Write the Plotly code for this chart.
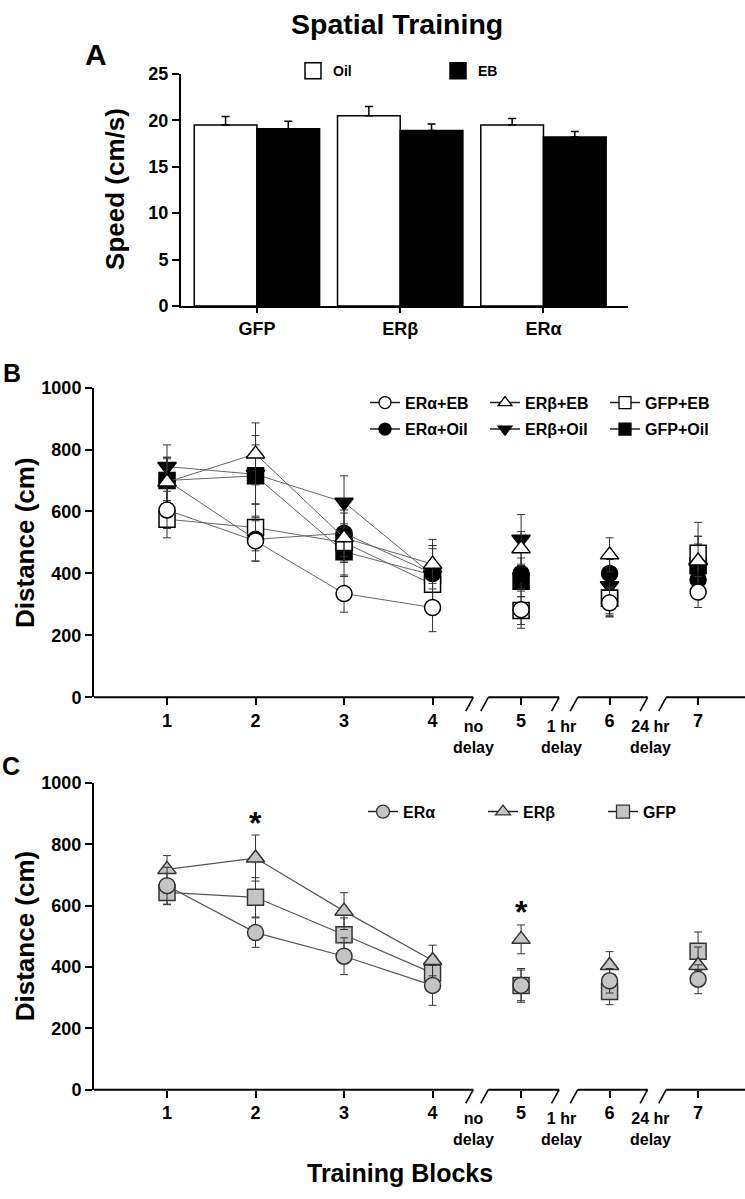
import plotly.graph_objects as go

W, H = 745, 1199
FONT = "Liberation Sans, Arial, Helvetica, sans-serif"

# ---------------- data ----------------
# Panel A: swim speed
groups = ["GFP", "ERβ", "ERα"]
speed_oil = [19.5, 20.5, 19.5]
speed_oil_err = [0.9, 1.0, 0.7]
speed_eb = [19.1, 18.9, 18.2]
speed_eb_err = [0.8, 0.7, 0.6]

# Panel B: distance by group x treatment
blocks = [1, 2, 3, 4, 5, 6, 7]
block_labels = ["1", "2", "3", "4", "5", "6", "7"]
delay_labels = ["no<br>delay", "1 hr<br>delay", "24 hr<br>delay"]
delay_pos = [4.46, 5.46, 6.46]

b_era_eb = [605, 505, 335, 290, 283, 305, 340]
b_era_eb_err = [60, 65, 60, 78, 60, 45, 50]
b_era_oil = [700, 510, 530, 400, 400, 400, 380]
b_era_oil_err = [75, 70, 75, 90, 50, 45, 50]
b_erb_eb = [695, 786, 515, 430, 480, 460, 440]
b_erb_eb_err = [80, 100, 80, 80, 55, 55, 80]
b_erb_oil = [745, 720, 630, 395, 510, 360, 420]
b_erb_oil_err = [70, 95, 85, 95, 80, 90, 100]
b_gfp_eb = [575, 548, 500, 365, 280, 320, 465]
b_gfp_eb_err = [60, 75, 60, 70, 45, 60, 100]
b_gfp_oil = [700, 715, 470, 395, 375, 320, 425]
b_gfp_oil_err = [70, 130, 80, 85, 50, 55, 70]

# Panel C: distance by group
c_era = [665, 512, 435, 340, 340, 355, 360]
c_era_err = [60, 48, 60, 65, 50, 40, 47]
c_erb = [718, 755, 582, 421, 490, 405, 405]
c_erb_err = [45, 75, 60, 50, 47, 45, 60]
c_gfp = [643, 627, 505, 380, 340, 320, 451]
c_gfp_err = [40, 64, 55, 55, 55, 43, 63]

# significance markers (block, height)
sig_blocks = [2, 5]
sig_heights = [868, 580]


# ---------------- helpers ----------------
def pxx(p):
    return p / W


def pxy(p):
    return 1 - p / H


def gapped(vals, fill=None):
    # connect blocks 1-4, leave 5, 6, 7 unconnected
    return list(vals[:4]) + [fill, vals[4], fill, vals[5], fill, vals[6]]


xb = gapped(blocks)

fig = go.Figure()

# ---------------- Panel A ----------------
fig.add_trace(go.Bar(
    x=groups, y=speed_oil, name="Oil", showlegend=False,
    marker=dict(color="white", line=dict(color="black", width=1.5)),
    error_y=dict(type="data", array=speed_oil_err, arrayminus=[0] * 3, symmetric=False,
                 color="black", thickness=1.5, width=4),
    xaxis="x", yaxis="y"))
fig.add_trace(go.Bar(
    x=groups, y=speed_eb, name="EB", showlegend=False,
    marker=dict(color="black", line=dict(color="black", width=1.5)),
    error_y=dict(type="data", array=speed_eb_err, arrayminus=[0] * 3, symmetric=False,
                 color="black", thickness=1.5, width=4),
    xaxis="x", yaxis="y"))
# legend keys for panel A
for nm, col in [("Oil", "white"), ("EB", "black")]:
    fig.add_trace(go.Scatter(
        x=[None], y=[None], mode="markers", name=nm, legend="legend",
        marker=dict(symbol="square", size=16, color=col, line=dict(color="black", width=1.5)),
        xaxis="x", yaxis="y"))

# ---------------- Panel B ----------------
LINE_B = "#666666"
ERR_B = "#333333"
b_series = [
    # name, vals, err, symbol, fill, legend, rank
    ("ERβ+Oil", b_erb_oil, b_erb_oil_err, "triangle-down", "black", "legend3", 5),
    ("GFP+Oil", b_gfp_oil, b_gfp_oil_err, "square", "black", "legend3", 6),
    ("GFP+EB", b_gfp_eb, b_gfp_eb_err, "square", "white", "legend2", 3),
    ("ERα+Oil", b_era_oil, b_era_oil_err, "circle", "black", "legend3", 4),
    ("ERβ+EB", b_erb_eb, b_erb_eb_err, "triangle-up", "white", "legend2", 2),
    ("ERα+EB", b_era_eb, b_era_eb_err, "circle", "white", "legend2", 1),
]
for nm, vals, err, sym, fill, leg, rank in b_series:
    fig.add_trace(go.Scatter(
        x=xb, y=gapped(vals), name=nm, mode="lines+markers", showlegend=False,
        line=dict(color=LINE_B, width=1),
        marker=dict(symbol=sym, size=16, color=fill, line=dict(color="black", width=1.5)),
        error_y=dict(type="data", array=gapped(err, 0), color=ERR_B, thickness=1, width=4),
        xaxis="x2", yaxis="y2"))
    # legend key
    fig.add_trace(go.Scatter(
        x=[None], y=[None], name=nm, mode="lines+markers", legend=leg, legendrank=rank,
        line=dict(color="#222222", width=1.5),
        marker=dict(symbol=sym, size=12, color=fill, line=dict(color="black", width=1.3)),
        xaxis="x2", yaxis="y2"))

# ---------------- Panel C ----------------
GRAY = "#c4c4c4"
EDGE = "#333333"
c_series = [
    ("GFP", c_gfp, c_gfp_err, "square", 3),
    ("ERβ", c_erb, c_erb_err, "triangle-up", 2),
    ("ERα", c_era, c_era_err, "circle", 1),
]
for nm, vals, err, sym, rank in c_series:
    fig.add_trace(go.Scatter(
        x=xb, y=gapped(vals), name=nm, mode="lines+markers", showlegend=False,
        line=dict(color="#555555", width=1.2),
        marker=dict(symbol=sym, size=16, color=GRAY, line=dict(color=EDGE, width=1.5)),
        error_y=dict(type="data", array=gapped(err, 0), color=EDGE, thickness=1, width=4),
        xaxis="x3", yaxis="y3"))
    fig.add_trace(go.Scatter(
        x=[None], y=[None], name=nm, mode="lines+markers", legend="legend4", legendrank=rank,
        line=dict(color="#222222", width=1.5),
        marker=dict(symbol=sym, size=13, color=GRAY, line=dict(color=EDGE, width=1.3)),
        xaxis="x3", yaxis="y3"))

# ---------------- layout ----------------
tickfont = dict(family=FONT, size=18, color="black", weight="bold")
legfont = dict(family=FONT, size=16, color="black", weight="bold")

dom_a_x = [pxx(181), pxx(628)]
dom_a_y = [pxy(301), pxy(65)]
dom_b_x = [pxx(94), 1.0]
dom_b_y = [pxy(699), pxy(384)]
dom_c_x = [pxx(94), 1.0]
dom_c_y = [pxy(1098), pxy(786)]

xrange_bc = [0.175, 7.53]

common_y = dict(showline=True, linewidth=2, linecolor="black", ticks="outside", ticklen=7,
                tickwidth=2, tickcolor="black", showgrid=False, zeroline=False,
                tickfont=tickfont)
common_xbc = dict(range=xrange_bc, showline=False, ticks="outside", ticklen=7, tickwidth=2,
                  tickcolor="black", showgrid=False, zeroline=False, tickfont=tickfont,
                  tickvals=blocks, ticktext=block_labels)

fig.update_layout(
    width=W, height=H, autosize=False,
    margin=dict(l=0, r=0, t=0, b=0),
    paper_bgcolor="white", plot_bgcolor="white",
    font=dict(family=FONT, color="black"),
    barmode="group", bargap=0.125, bargroupgap=0,
    xaxis=dict(domain=dom_a_x, anchor="y", range=[-0.53, 2.59], showline=True, linewidth=2,
               linecolor="black", ticks="outside", ticklen=5, tickwidth=2, tickcolor="black",
               showgrid=False, tickfont=tickfont),
    yaxis=dict(domain=dom_a_y, anchor="x", range=[0, 25], tickvals=[0, 5, 10, 15, 20, 25],
               **common_y),
    xaxis2=dict(domain=dom_b_x, anchor="y2", **common_xbc),
    yaxis2=dict(domain=dom_b_y, anchor="x2", range=[0, 1000],
                tickvals=[0, 200, 400, 600, 800, 1000], **common_y),
    xaxis3=dict(domain=dom_c_x, anchor="y3", **common_xbc),
    yaxis3=dict(domain=dom_c_y, anchor="x3", range=[0, 1000],
                tickvals=[0, 200, 400, 600, 800, 1000], **common_y),
    legend=dict(orientation="h", x=pxx(293), y=pxy(46), xanchor="left", yanchor="top",
                font=dict(family=FONT, size=14, color="black", weight="bold"),
                entrywidth=100, bgcolor="rgba(0,0,0,0)"),
    legend2=dict(orientation="h", x=pxx(365), y=pxy(382), xanchor="left", yanchor="top",
                 font=legfont, entrywidth=75, bgcolor="rgba(0,0,0,0)"),
    legend3=dict(orientation="h", x=pxx(365), y=pxy(409), xanchor="left", yanchor="top",
                 font=legfont, entrywidth=75, bgcolor="rgba(0,0,0,0)"),
    legend4=dict(orientation="h", x=pxx(363), y=pxy(798), xanchor="left", yanchor="top",
                 font=legfont, entrywidth=75, bgcolor="rgba(0,0,0,0)"),
)

# ---------------- broken x axes (B, C) ----------------
shapes = []
seg_bounds = [(xrange_bc[0], 4.46), (4.63, 5.43), (5.64, 6.43), (6.64, xrange_bc[1])]
for xr, yr, hpx in [("x2", "y2 domain", 315), ("x3", "y3 domain", 312)]:
    dy = 14 / hpx
    for i, (s, e) in enumerate(seg_bounds):
        shapes.append(dict(type="line", xref=xr, yref=yr, x0=s, x1=e, y0=0, y1=0,
                           line=dict(color="black", width=2)))
        if i > 0:
            shapes.append(dict(type="line", xref=xr, yref=yr, x0=s - 0.085, x1=s, y0=-dy, y1=0,
                               line=dict(color="black", width=1.6)))
        if i < len(seg_bounds) - 1:
            shapes.append(dict(type="line", xref=xr, yref=yr, x0=e - 0.085, x1=e, y0=-dy, y1=0,
                               line=dict(color="black", width=1.6)))
fig.update_layout(shapes=shapes)

# ---------------- text ----------------
ann = []
ann.append(dict(text="Spatial Training", x=pxx(397), y=pxy(14), xref="paper", yref="paper",
                showarrow=False, xanchor="center", yanchor="middle",
                font=dict(family=FONT, size=28.5, color="black", weight="bold")))
for lab, px_, py_, sz in [("A", 96, 45, 30), ("B", 12, 369, 25), ("C", 11, 769, 25)]:
    ann.append(dict(text=lab, x=pxx(px_), y=pxy(py_), xref="paper", yref="paper",
                    showarrow=False, xanchor="center", yanchor="middle",
                    font=dict(family=FONT, size=sz, color="black", weight="bold")))
for lab, px_, py_ in [("Speed (cm/s)", 115, 182), ("Distance (cm)", 25, 542),
                      ("Distance (cm)", 25, 942)]:
    ann.append(dict(text=lab, x=pxx(px_), y=pxy(py_), xref="paper", yref="paper",
                    showarrow=False, textangle=-90, xanchor="center", yanchor="middle",
                    font=dict(family=FONT, size=26, color="black", weight="bold")))
ann.append(dict(text="Training Blocks", x=pxx(400), y=pxy(1183), xref="paper", yref="paper",
                showarrow=False, xanchor="center", yanchor="middle",
                font=dict(family=FONT, size=25, color="black", weight="bold")))
for xr, top in [("x2", 718), ("x3", 1117)]:
    for lab, xp in zip(delay_labels, delay_pos):
        ann.append(dict(text=lab, x=xp, xref=xr, y=pxy(top), yref="paper", showarrow=False,
                        xanchor="center", yanchor="top",
                        font=dict(family=FONT, size=16, color="black", weight="bold")))
for xs, ys in zip(sig_blocks, sig_heights):
    ann.append(dict(text="*", x=xs, y=ys, xref="x3", yref="y3", showarrow=False,
                    xanchor="center", yanchor="middle",
                    font=dict(family=FONT, size=32, color="black", weight="bold")))
fig.update_layout(annotations=ann)

fig.write_html("out.html", config={"displayModeBar": False},
               post_script="document.body.style.margin='0';document.body.style.overflow='hidden';")
